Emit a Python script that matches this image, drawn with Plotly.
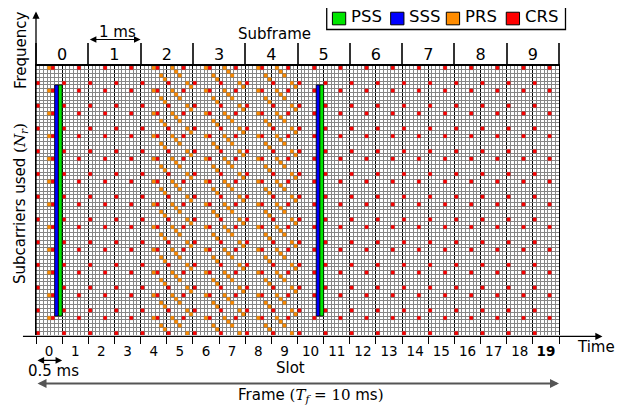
import plotly.graph_objects as go

# ---------------- data ----------------
n_slots = 20
symbols_per_slot = 7
n_subcarriers = 71
subframe_labels = ['0', '1', '2', '3', '4', '5', '6', '7', '8', '9']
slot_labels = ['0', '1', '2', '3', '4', '5', '6', '7', '8', '9',
               '10', '11', '12', '13', '14', '15', '16', '17', '18', '<b>19</b>']
legend_names = ['PSS', 'SSS', 'PRS', 'CRS']

# synchronisation signals
sync_slots = [0, 10]
sss_symbol = 5
pss_symbol = 6
sync_first_sc = 5
sync_n_sc = 61

# cell-specific reference signals: symbol -> subcarrier offset (period 6)
rs_period = 6
crs_symbols = [0, 4]
crs_offsets = [0, 4]

# positioning reference signals
prs_slots = [4, 5, 6, 7, 8, 9]
prs_even_symbols = [3, 5, 6]
prs_even_offsets = [4, 2, 1]
prs_odd_symbols = [1, 2, 3, 5, 6]
prs_odd_offsets = [4, 3, 2, 0, 5]
prs_extra_slots = [0]
prs_extra_symbols = [3]
prs_extra_offsets = [4]

colors = {'PSS': '#00e600', 'SSS': '#0000ff', 'PRS': '#ff8c00', 'CRS': '#ff0000'}

# ---------------- build resource element lists ----------------
n_cols = n_slots * symbols_per_slot


def pattern(slots, symbols, offsets):
    xs, ks = [], []
    for s in slots:
        for l, off in zip(symbols, offsets):
            for k in range(off, n_subcarriers, rs_period):
                xs.append(s * symbols_per_slot + l + 0.5)
                ks.append(k)
    return xs, ks


crs_x, crs_k = pattern(range(n_slots), crs_symbols, crs_offsets)
prs_x, prs_k = [], []
for s in prs_slots:
    if s % 2 == 0:
        a, b = pattern([s], prs_even_symbols, prs_even_offsets)
    else:
        a, b = pattern([s], prs_odd_symbols, prs_odd_offsets)
    prs_x += a
    prs_k += b
a, b = pattern(prs_extra_slots, prs_extra_symbols, prs_extra_offsets)
prs_x += a
prs_k += b

fig = go.Figure()

cell_line = dict(color='#666666', width=0.3)
fig.add_trace(go.Bar(x=crs_x, y=[1] * len(crs_x), base=crs_k, width=1, name='CRS',
                     marker=dict(color=colors['CRS'], line=cell_line),
                     showlegend=False, hoverinfo='skip'))
fig.add_trace(go.Bar(x=prs_x, y=[1] * len(prs_x), base=prs_k, width=1, name='PRS',
                     marker=dict(color=colors['PRS'], line=cell_line),
                     showlegend=False, hoverinfo='skip'))
for sym, name in [(sss_symbol, 'SSS'), (pss_symbol, 'PSS')]:
    xs = [s * symbols_per_slot + sym + 0.5 for s in sync_slots]
    fig.add_trace(go.Bar(x=xs, y=[sync_n_sc] * len(xs), base=[sync_first_sc] * len(xs),
                         width=1, name=name,
                         marker=dict(color=colors[name], line=dict(color='black', width=0.8)),
                         showlegend=False, hoverinfo='skip'))

# dummy traces for overlay axes
for ax in ['x2', 'x3', 'x4']:
    fig.add_trace(go.Scatter(x=[None], y=[None], xaxis=ax, yaxis='y',
                             showlegend=False, hoverinfo='skip'))

slot_bounds = [s * symbols_per_slot for s in range(n_slots + 1)]
slot_centers = [s * symbols_per_slot + symbols_per_slot / 2 for s in range(n_slots)]
sf_bounds = [s * 2 * symbols_per_slot for s in range(len(subframe_labels) + 1)]
sf_centers = [s * 2 * symbols_per_slot + symbols_per_slot for s in range(len(subframe_labels))]

# page offset (the html body has an 8 px margin)
OX, OY = 8, 8
W, H = 629, 408
gx0, gx1, gy0, gy1 = 36 - OX, 559.5 - OX, 65.5 - OY, 334.6 - OY
L, R, T, B = gx0, W - gx1, gy0, H - gy1
pw, ph = gx1 - gx0, gy1 - gy0


def px(x):
    return (x - OX - gx0) / pw


def py(y):
    return (gy1 - (y - OY)) / ph


grid_col = '#868686'
fig.update_layout(
    width=W, height=H, margin=dict(l=L, r=R, t=T, b=B, pad=0, autoexpand=False),
    plot_bgcolor='white', paper_bgcolor='white', barmode='overlay', showlegend=False,
    font=dict(family='DejaVu Sans', size=15, color='black'),
    xaxis=dict(range=[0, n_cols], tickmode='linear', tick0=0, dtick=symbols_per_slot,
               showgrid=True, gridcolor='#000000', gridwidth=1.4,
               ticks='outside', ticklen=8, tickwidth=1.2, tickcolor='black',
               showticklabels=False, zeroline=False, showline=False,
               minor=dict(tickmode='linear', tick0=0, dtick=1, showgrid=True,
                          gridcolor=grid_col, gridwidth=0.55, ticks='')),
    yaxis=dict(range=[0, n_subcarriers], tickmode='linear', tick0=0, dtick=1,
               showgrid=True, gridcolor=grid_col, gridwidth=0.55,
               showticklabels=False, ticks='', zeroline=False,
               showline=True, mirror=True, linecolor='black', linewidth=1.2),
    xaxis2=dict(overlaying='x', side='top', anchor='y', range=[0, n_cols],
                tickmode='array', tickvals=sf_bounds, ticks='outside', ticklen=21,
                tickwidth=1.5, tickcolor='#333333', showticklabels=False,
                showgrid=False, zeroline=False, showline=True, linewidth=2, linecolor='black'),
    xaxis3=dict(overlaying='x', side='top', anchor='y', range=[0, n_cols],
                tickmode='array', tickvals=sf_centers, ticktext=subframe_labels,
                ticks='', showgrid=False, zeroline=False, showline=False,
                tickfont=dict(size=16), ticklabelstandoff=2),
    xaxis4=dict(overlaying='x', side='bottom', anchor='y', range=[0, n_cols],
                tickmode='array', tickvals=slot_centers, ticktext=slot_labels,
                ticks='', showgrid=False, zeroline=False, showline=False,
                tickfont=dict(size=13.5), ticklabelstandoff=6),
)

serif = "font-family:'DejaVu Serif'"
ann = []
shapes = []


def text(x, y, s, size=15, angle=0, xanchor='center'):
    ann.append(dict(xref='paper', yref='paper', x=px(x), y=py(y), text=s, showarrow=False,
                    font=dict(size=size), textangle=angle, xanchor=xanchor, yanchor='middle'))


text(20.5, 50, 'Frequency', 15, -90)
text(20.5, 203, "Subcarriers used <span style=\"%s\">(<i>N</i><sub><i>r</i></sub>)</span>" % serif, 15, -90)
text(275, 33, 'Subframe')
text(118, 31, '1 ms')
text(597, 347, 'Time')
text(291, 368, 'Slot')
text(54, 371, '0.5 ms')
text(311, 395, "Frame <span style=\"%s\">(<i>T</i><sub><i>f</i></sub> = 10</span> ms<span style=\"%s\">)</span>" % (serif, serif))

# legend box (key for the four signal types)
shapes.append(dict(type='rect', xref='paper', yref='paper', x0=px(327), x1=px(566),
                   y0=py(29), y1=py(3), line=dict(color='black', width=1.3), fillcolor='white',
                   layer='above'))
legend_x = [332.7, 391, 446.7, 506.7]
for name, lx in zip(legend_names, legend_x):
    shapes.append(dict(type='rect', xref='paper', yref='paper', x0=px(lx), x1=px(lx + 13.3),
                       y0=py(24.3), y1=py(11.7), line=dict(color='black', width=1),
                       fillcolor=colors[name], layer='above'))
    ann.append(dict(xref='paper', yref='paper', x=px(lx + 16.5), y=py(16), text=name,
                    showarrow=False, font=dict(size=16.5), xanchor='left', yanchor='middle'))

# axis arrows
ann.append(dict(xref='paper', yref='paper', x=px(36), y=py(11), ax=0, ay=325,
                showarrow=True, arrowhead=2, arrowsize=1.1, arrowwidth=1.3, arrowcolor='black', text=''))
ann.append(dict(xref='paper', yref='paper', x=px(603), y=py(336), ax=-581, ay=0,
                showarrow=True, arrowhead=2, arrowsize=1.1, arrowwidth=1.3, arrowcolor='black', text=''))
# duration arrows (span data columns)
ann.append(dict(xref='x', yref='paper', x=sf_bounds[2], y=py(39), axref='x', ax=sf_bounds[1], ay=0,
                showarrow=True, arrowhead=2, startarrowhead=2, arrowside='end+start',
                arrowsize=1.1, arrowwidth=1.2, arrowcolor='black', text=''))
ann.append(dict(xref='x', yref='paper', x=slot_bounds[1], y=py(360), axref='x', ax=slot_bounds[0], ay=0,
                showarrow=True, arrowhead=2, startarrowhead=2, arrowside='end+start',
                arrowsize=1.1, arrowwidth=1.2, arrowcolor='black', text=''))
ann.append(dict(xref='x', yref='paper', x=slot_bounds[-1], y=py(383), axref='x', ax=slot_bounds[0], ay=0,
                showarrow=True, arrowhead=2, startarrowhead=2, arrowside='end+start',
                arrowsize=0.9, arrowwidth=2, arrowcolor='#555555', text=''))
fig.update_layout(annotations=ann, shapes=shapes)

fig.write_html('out.html')
